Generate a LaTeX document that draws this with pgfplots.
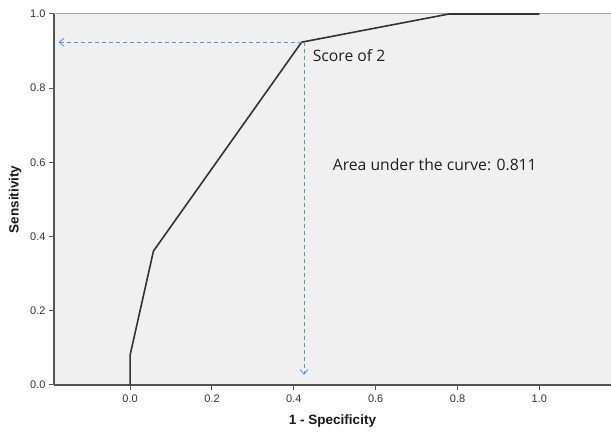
\documentclass[border=0pt]{standalone}
\usepackage{fontspec}
\setmainfont{Liberation Sans}
\newfontfamily\annfont{Open Sans}
\usepackage{pgfplots}
\pgfplotsset{compat=1.18}
\usetikzlibrary{arrows.meta,calc}
\definecolor{bg}{HTML}{F0F0F0}
\definecolor{axc}{HTML}{555555}
\definecolor{curve}{HTML}{333333}
\definecolor{arr}{HTML}{5B8FD6}
\begin{document}
\begin{tikzpicture}
\begin{axis}[
  name=ax,
  scale only axis,
  width=557pt, height=371pt,
  xmin=-0.186, xmax=1.175, ymin=0, ymax=1,
  axis background/.style={fill=bg},
  axis x line*=bottom, axis y line*=left,
  axis line style={draw=axc, line width=1.3pt},
  tick align=outside, major tick length=5pt,
  tick style={draw=axc, line width=1pt},
  xtick={0,0.2,0.4,0.6,0.8,1.0},
  ytick={0,0.2,0.4,0.6,0.8,1.0},
  /pgf/number format/.cd, fixed, fixed zerofill, precision=1, assume math mode=true,
  /pgfplots/.cd,
  ticklabel style={font=\fontsize{11}{13}\selectfont, text=black!80},
  xticklabel style={yshift=-1pt},
  xlabel={\textbf{1 - Specificity}},
  ylabel={\textbf{Sensitivity}},
  label style={font=\fontsize{13.5}{15}\selectfont, text=black!90},
  xlabel style={yshift=-6pt},
  ylabel style={yshift=2pt},
  clip=false,
]
\draw[color=gray!70, line width=1pt] (rel axis cs:0,1) -- (rel axis cs:1,1);
\addplot[color=curve, line width=1.6pt] coordinates {
  (0,0) (0,0.081) (0.057,0.361) (0.419,0.924) (0.779,1.0) (1.0,1.0)
};
\draw[arr, dashed, dash pattern=on 4pt off 3pt, line width=0.8pt, -{Straight Barb[length=5pt,width=8pt]}]
  (axis cs:0.419,0.924) -- (axis cs:-0.175,0.924);
\draw[arr, dashed, dash pattern=on 4pt off 3pt, line width=0.8pt, -{Straight Barb[length=5pt,width=8pt]}]
  (axis cs:0.425,0.924) -- (axis cs:0.425,0.027);
\node[anchor=west, font=\annfont\fontsize{15.7}{18}\selectfont, text=black!88, inner sep=0pt] at (axis cs:0.446,0.887) {Score of 2};
\node[anchor=west, font=\annfont\fontsize{15.7}{18}\selectfont, text=black!88, inner sep=0pt] at (axis cs:0.495,0.593) {Area under the curve: 0.811};
\end{axis}
\pgfresetboundingbox
\path ($(ax.south west)+(-54pt,-48pt)$) rectangle ($(ax.north east)+(0pt,14pt)$);
\end{tikzpicture}
\end{document}
